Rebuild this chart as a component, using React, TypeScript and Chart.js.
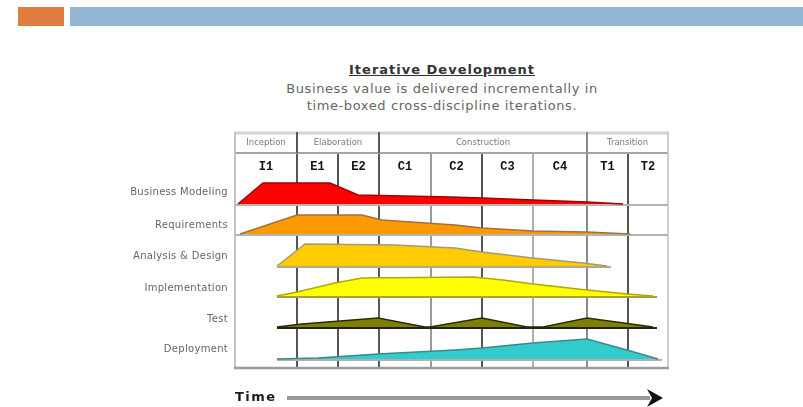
import React, { useEffect, useRef } from "react";
import { Chart, registerables } from "chart.js";

Chart.register(...registerables);

// ---- data ----
const phases = ["Inception", "Elaboration", "Construction", "Transition"];
const iterations = ["I1", "E1", "E2", "C1", "C2", "C3", "C4", "T1", "T2"];
const workflows = ["Business Modeling", "Requirements", "Analysis & Design", "Implementation", "Test", "Deployment"];

// iteration boundaries on the time axis (days)
const iterationBounds = [0, 62, 103, 144, 196, 247, 298, 352, 393, 433];
// which boundaries are phase boundaries (index into iterationBounds)
const phaseBoundIdx = [0, 1, 3, 7, 9];

const bmTime = [3, 28, 95, 123, 215, 247, 298, 352, 388];
const bmEffort = [0, 21, 21, 9, 7, 6, 4, 2, 0];
const reqTime = [5, 62, 127, 147, 220, 247, 298, 352, 395];
const reqEffort = [0, 19, 19, 14, 9, 6, 3, 2, 0];
const adTime = [42, 70, 160, 220, 247, 298, 348, 372];
const adEffort = [0, 22, 21, 18, 14, 8, 3, 0];
const implTime = [42, 62, 100, 127, 238, 268, 298, 352, 392, 418];
const implEffort = [0, 4, 13, 18, 19, 16, 12, 6, 2, 0];
const testTime = [42, 67, 105, 143, 190, 195, 247, 292, 308, 352, 418];
const testEffort = [0, 3, 6, 9, 0, 0, 9, 0, 0, 9, 0];
const depTime = [42, 83, 143, 220, 247, 298, 352, 392, 423];
const depEffort = [0, 1, 5, 9, 11, 16, 20, 9, 0];

const seriesTime = [bmTime, reqTime, adTime, implTime, testTime, depTime];
const seriesEffort = [bmEffort, reqEffort, adEffort, implEffort, testEffort, depEffort];

// ---- layout / styles ----
const laneBase = [164, 134, 102, 72, 41, 9];
const laneLabel = [177, 144, 113, 81, 50, 20];
const fills = ["#ff0000", "#ff9900", "#ffcc00", "#ffff00", "#808000", "#33cccc"];
const edges = ["#a00000", "#a07040", "#a89878", "#b0a800", "#2a2a00", "#3a8a8a"];
const baseLines = ["#b4b4b4", "#b4b4b4", "#b0a890", "#a8a040", "#222222", "#b0b0b0"];
const fullWidthBase = [true, true, false, false, false, false];
const gridColors = ["#c4c4c4", "#555555", "#555555", "#5a5a5a", "#9a9a9a", "#555555", "#b0b0b0", "#8a8a8a", "#555555", "#d0d0d0"];

const rupPlugin = {
  id: "rup",
  beforeDatasetsDraw(chart: any) {
    const { ctx, chartArea, scales } = chart;
    const x = scales.x;
    const y = scales.y;
    ctx.save();
    seriesTime.forEach((t, k) => {
      const py = y.getPixelForValue(laneBase[k]) + 1;
      const x0 = fullWidthBase[k] ? chartArea.left : x.getPixelForValue(t[0]);
      const x1 = fullWidthBase[k] ? chartArea.right : x.getPixelForValue(t[t.length - 1]) + 4;
      ctx.strokeStyle = baseLines[k];
      ctx.lineWidth = 2;
      ctx.beginPath();
      ctx.moveTo(x0, py);
      ctx.lineTo(x1, py);
      ctx.stroke();
    });
    ctx.restore();
  },
  afterDraw(chart: any) {
    const { ctx, chartArea, scales } = chart;
    const x = scales.x;
    const { left, right, top, bottom } = chartArea;
    const hTop = top - 21;
    ctx.save();
    // header row 1
    ctx.strokeStyle = "#d4d4d4";
    ctx.lineWidth = 3;
    ctx.beginPath();
    ctx.moveTo(left - 1, hTop + 1);
    ctx.lineTo(right + 1, hTop + 1);
    ctx.stroke();
    ctx.strokeStyle = "#a4a4a4";
    ctx.lineWidth = 2;
    ctx.beginPath();
    ctx.moveTo(left, top);
    ctx.lineTo(right, top);
    ctx.stroke();
    phaseBoundIdx.forEach((bi) => {
      const px = x.getPixelForValue(iterationBounds[bi]);
      ctx.strokeStyle = gridColors[bi];
      ctx.lineWidth = 2;
      ctx.beginPath();
      ctx.moveTo(px, hTop);
      ctx.lineTo(px, top);
      ctx.stroke();
    });
    ctx.fillStyle = "#7a7a7a";
    ctx.font = "8.5px 'DejaVu Sans'";
    ctx.textAlign = "center";
    ctx.textBaseline = "middle";
    phases.forEach((p, i) => {
      const a = x.getPixelForValue(iterationBounds[phaseBoundIdx[i]]);
      const b = x.getPixelForValue(iterationBounds[phaseBoundIdx[i + 1]]);
      ctx.fillText(p, (a + b) / 2, hTop + 11);
    });
    // iteration labels
    ctx.fillStyle = "#111";
    ctx.font = "bold 12px 'Liberation Mono'";
    iterations.forEach((it, i) => {
      const a = x.getPixelForValue(iterationBounds[i]);
      const b = x.getPixelForValue(iterationBounds[i + 1]);
      ctx.fillText(it, (a + b) / 2, top + 14);
    });
    // bottom border
    ctx.strokeStyle = "#9c9c9c";
    ctx.lineWidth = 2.5;
    ctx.beginPath();
    ctx.moveTo(left - 1, bottom);
    ctx.lineTo(right + 1, bottom);
    ctx.stroke();
    // lane labels
    ctx.fillStyle = "#666";
    ctx.font = "10px 'DejaVu Sans'";
    ctx.textAlign = "right";
    (ctx as any).letterSpacing = "0.3px";
    workflows.forEach((w, k) => {
      ctx.fillText(w, left - 7, scales.y.getPixelForValue(laneLabel[k]) + 1);
    });
    // time arrow
    const ay = bottom + 30;
    ctx.fillStyle = "#1a1a1a";
    ctx.font = "bold 13px 'DejaVu Sans'";
    ctx.textAlign = "left";
    (ctx as any).letterSpacing = "1.5px";
    ctx.fillText("Time", left, ay);
    (ctx as any).letterSpacing = "0px";
    ctx.strokeStyle = "#999";
    ctx.lineWidth = 4;
    ctx.beginPath();
    ctx.moveTo(left + 52, ay);
    ctx.lineTo(right - 18, ay);
    ctx.stroke();
    ctx.fillStyle = "#111";
    ctx.beginPath();
    ctx.moveTo(right - 21, ay - 9);
    ctx.lineTo(right - 5, ay);
    ctx.lineTo(right - 21, ay + 9);
    ctx.lineTo(right - 16, ay);
    ctx.closePath();
    ctx.fill();
    ctx.restore();
  },
};

export default function App() {
  const ref = useRef<HTMLCanvasElement | null>(null);
  useEffect(() => {
    if (!ref.current) return;
    const datasets = workflows.map((w, k) => ({
      label: w,
      data: seriesTime[k].map((t, i) => ({ x: t, y: laneBase[k] + seriesEffort[k][i] })),
      fill: { value: laneBase[k] },
      backgroundColor: fills[k],
      borderColor: edges[k],
      borderWidth: 1.5,
      pointRadius: 0,
      tension: 0,
    }));
    const chart = new Chart(ref.current, {
      type: "line",
      data: { datasets },
      options: {
        responsive: false,
        animation: false,
        layout: { padding: { left: 235, right: 135, top: 153, bottom: 39 } },
        plugins: { legend: { display: false }, tooltip: { enabled: false }, title: { display: false } },
        scales: {
          x: {
            type: "linear",
            min: 0,
            max: 433,
            z: 1,
            afterBuildTicks: (scale: any) => {
              scale.ticks = iterationBounds.map((v) => ({ value: v }));
            },
            afterFit: (scale: any) => {
              scale.height = 0;
            },
            ticks: { display: false, autoSkip: false },
            grid: {
              drawTicks: false,
              lineWidth: 2,
              color: (c: any) => gridColors[c.index] || "#555",
            },
            border: { display: false },
          },
          y: { type: "linear", min: 0, max: 215, display: false },
        },
      },
      plugins: [rupPlugin],
    } as any);
    return () => chart.destroy();
  }, []);

  return (
    <div style={{ position: "absolute", left: 0, top: 0, width: 803, height: 407, background: "#fff" }}>
      <div style={{ position: "absolute", left: 18, top: 7, width: 46, height: 19, background: "#e07c3e" }} />
      <div style={{ position: "absolute", left: 70, top: 7, width: 733, height: 19, background: "#93b6d4" }} />
      <div
        style={{
          position: "absolute",
          left: 192,
          top: 62,
          width: 500,
          textAlign: "center",
          font: "bold 13px 'DejaVu Sans'",
          letterSpacing: "1px",
          lineHeight: "16px",
          color: "#333",
          textDecoration: "underline",
        }}
      >
        Iterative Development
      </div>
      <div
        style={{
          position: "absolute",
          left: 142,
          top: 80,
          width: 600,
          textAlign: "center",
          font: "13px 'DejaVu Sans'",
          letterSpacing: "0.6px",
          lineHeight: "17px",
          color: "#666",
        }}
      >
        Business value is delivered incrementally in
        <br />
        time-boxed cross-discipline iterations.
      </div>
      <canvas ref={ref} width={803} height={407} style={{ position: "absolute", left: 0, top: 0 }} />
    </div>
  );
}
